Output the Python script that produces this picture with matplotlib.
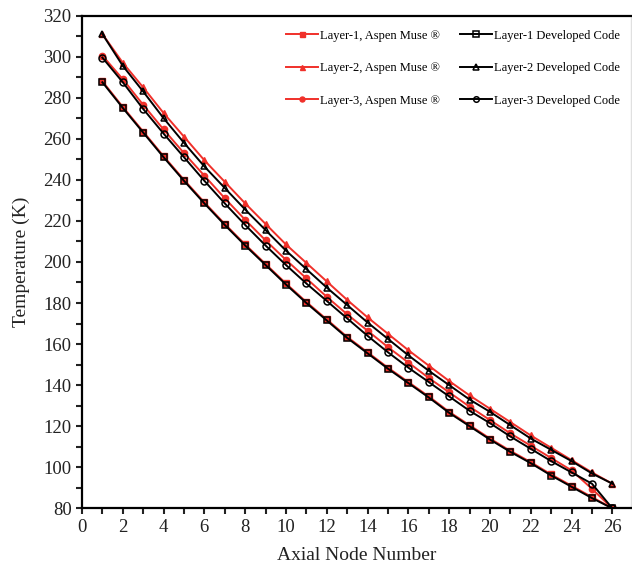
"""Axial temperature profile: Aspen Muse vs developed code."""

import matplotlib

matplotlib.use("Agg")

import matplotlib.pyplot as plt
import numpy as np


NODES = np.arange(1, 27)

LAYER1_ASPEN = [288, 275.5, 263.5, 251.5, 240, 229, 218.5, 208.5, 199, 189.5, 180.5, 172, 163.5,
                156, 148.5, 141.5, 134.5, 127, 120.5, 114, 108, 102.5, 96.5, 91, 85.5, 80]
LAYER2_ASPEN = [311, 297, 285, 272.5, 261, 249.5, 239, 228.5, 218.5, 208.5, 199.5, 190.5, 181.5,
                173, 165, 157, 149.5, 142, 135, 128.5, 122, 115.5, 109.5, 103.5, 97.5, 92]
LAYER3_ASPEN = [300.5, 289, 276.5, 264.5, 253, 242, 231, 220.5, 210.5, 201, 192, 183, 174.5,
                166.5, 158.5, 151, 143.5, 136.5, 129.5, 123, 116.5, 110.5, 104.5, 98.5, 89.5, 80]

LAYER1_CODE = [287.5, 275, 263, 251, 239.5, 228.5, 218, 208, 198.5, 189, 180, 171.5, 163,
               155.5, 148, 141, 134, 126.5, 120, 113.5, 107.5, 102, 96, 90.5, 85, 80]
LAYER2_CODE = [311, 295.5, 283, 270, 258, 246.5, 236, 225.5, 215.5, 205.5, 196.5, 187.5, 179,
               170.5, 162.5, 154.5, 147, 140, 133, 127, 120.5, 114, 108.5, 103, 97, 92]
LAYER3_CODE = [299.5, 287.5, 274.5, 262.5, 251, 239.5, 228.5, 218, 208, 198.5, 189.5, 181, 172.5,
               164, 156, 148.5, 141.5, 134.5, 127.5, 121.5, 115, 109, 103, 97.5, 92, 80]

ASPEN_LABELS = ["Layer-1, Aspen Muse \u00ae", "Layer-2, Aspen Muse \u00ae", "Layer-3, Aspen Muse \u00ae"]
CODE_LABELS = ["Layer-1 Developed Code", "Layer-2 Developed Code", "Layer-3 Developed Code"]
MARKERS = ["s", "^", "o"]

RED = "#f0302a"


def main() -> None:
    plt.rcParams["font.family"] = ["Liberation Serif", "DejaVu Serif"]

    fig = plt.figure(figsize=(6.32, 5.68), dpi=100)
    ax = fig.add_axes([0.1297, 0.105, 0.8683, 0.8677])

    handles = []
    for values, marker, label in zip([LAYER1_ASPEN, LAYER2_ASPEN, LAYER3_ASPEN], MARKERS, ASPEN_LABELS):
        (line,) = ax.plot(NODES, values, color=RED, lw=1.4, marker=marker, ms=4.5,
                          mfc=RED, mec=RED, label=label, zorder=2)
        handles.append(line)
    for values, marker, label in zip([LAYER1_CODE, LAYER2_CODE, LAYER3_CODE], MARKERS, CODE_LABELS):
        (line,) = ax.plot(NODES, values, color="black", lw=1.4, marker=marker, ms=5,
                          mfc="none", mec="black", mew=1.1, label=label, zorder=3)
        handles.append(line)

    ax.set_xlim(0, 26.9)
    ax.set_ylim(80, 320)
    ax.set_xticks(np.arange(0, 27, 2))
    ax.set_xticks(np.arange(1, 27, 2), minor=True)
    ax.set_yticks(np.arange(80, 321, 20))
    ax.set_yticks(np.arange(90, 320, 20), minor=True)
    ax.tick_params(which="both", direction="out", length=4, width=1.5, labelsize=13.5, colors="#222222")

    for side in ["left", "bottom", "top"]:
        ax.spines[side].set_linewidth(1.6)
    ax.spines["right"].set_color("#e0e0e0")
    ax.spines["right"].set_linewidth(1.0)

    ax.set_xlabel("Axial Node Number", fontsize=14, color="#222222", labelpad=8)
    ax.set_ylabel("Temperature (K)", fontsize=14, color="#222222", labelpad=10)

    ax.legend(handles=handles, ncol=2, loc="upper left", bbox_to_anchor=(0.452, 0.948),
              bbox_transform=fig.transFigure, frameon=False, fontsize=9,
              handlelength=2.6, handletextpad=0.15, columnspacing=1.6,
              labelspacing=1.65, borderpad=0, borderaxespad=0, markerscale=0.8)

    fig.savefig("out.png", dpi=100)
    plt.close(fig)


if __name__ == "__main__":
    main()
